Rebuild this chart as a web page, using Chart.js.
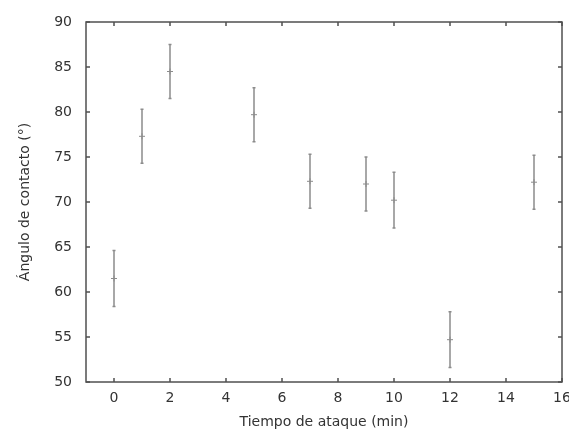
<!DOCTYPE html>
<html>
<head>
<meta charset="utf-8">
<script src="https://cdn.jsdelivr.net/npm/chart.js@4"></script>
<style>
  html, body { margin: 0; padding: 0; background: #fff; }
  #wrap { width: 569px; height: 432px; }
</style>
</head>
<body>
<div id="wrap"><canvas id="grafico"></canvas></div>
<script>
const tiempos = [0, 1, 2, 5, 7, 9, 10, 12, 15];
const angulos = [61.5, 77.3, 84.5, 79.7, 72.3, 72.0, 70.2, 54.7, 72.2];
const errores = [3.1, 3.0, 3.0, 3.0, 3.0, 3.0, 3.1, 3.1, 3.0];
const xTicks = [0, 2, 4, 6, 8, 10, 12, 14, 16];
const yTicks = [50, 55, 60, 65, 70, 75, 80, 85, 90];

const colorBarra = '#8c8c8c';
const colorEje = '#505050';

// barras de error + marco con marcas hacia dentro (estilo gnuplot)
const barrasError = {
  id: 'barrasError',
  beforeDatasetsDraw(chart) {
    const ctx = chart.ctx;
    const x = chart.scales.x, y = chart.scales.y;
    ctx.save();
    ctx.strokeStyle = colorBarra;
    ctx.lineWidth = 1.5;
    tiempos.forEach((t, i) => {
      const px = x.getPixelForValue(t);
      const top = y.getPixelForValue(angulos[i] + errores[i]);
      const bot = y.getPixelForValue(angulos[i] - errores[i]);
      ctx.beginPath();
      ctx.moveTo(px, top); ctx.lineTo(px, bot);
      ctx.moveTo(px - 1.5, top); ctx.lineTo(px + 1.5, top);
      ctx.moveTo(px - 1.5, bot); ctx.lineTo(px + 1.5, bot);
      ctx.stroke();
    });
    ctx.restore();
  },
  afterDraw(chart) {
    const ctx = chart.ctx;
    const a = chart.chartArea;
    const x = chart.scales.x, y = chart.scales.y;
    ctx.save();
    ctx.strokeStyle = colorEje;
    ctx.lineWidth = 1.5;
    ctx.strokeRect(a.left, a.top, a.right - a.left, a.bottom - a.top);
    ctx.beginPath();
    xTicks.forEach(v => {
      const px = x.getPixelForValue(v);
      ctx.moveTo(px, a.bottom); ctx.lineTo(px, a.bottom - 4);
      ctx.moveTo(px, a.top); ctx.lineTo(px, a.top + 4);
    });
    yTicks.forEach(v => {
      const py = y.getPixelForValue(v);
      ctx.moveTo(a.left, py); ctx.lineTo(a.left + 4, py);
      ctx.moveTo(a.right, py); ctx.lineTo(a.right - 4, py);
    });
    ctx.stroke();
    ctx.restore();
  }
};

Chart.defaults.font.family = 'DejaVu Sans';
Chart.defaults.font.size = 14;
Chart.defaults.color = '#333';

new Chart(document.getElementById('grafico'), {
  type: 'scatter',
  data: {
    datasets: [{
      data: tiempos.map((t, i) => ({x: t, y: angulos[i]})),
      pointStyle: 'cross',
      pointRadius: 3,
      borderColor: colorBarra,
      borderWidth: 1,
      backgroundColor: colorBarra
    }]
  },
  options: {
    responsive: true,
    maintainAspectRatio: false,
    animation: false,
    layout: { padding: { top: 22, right: 7, left: 0, bottom: 0 } },
    plugins: { legend: { display: false }, tooltip: { enabled: false } },
    scales: {
      x: {
        type: 'linear',
        min: -1, max: 16,
        afterBuildTicks: s => { s.ticks = xTicks.map(v => ({value: v})); },
        afterFit: s => { s.height = 50; s.paddingLeft = 0; s.paddingRight = 0; },
        grid: { display: false, drawTicks: false },
        border: { display: false },
        ticks: { padding: 8, maxRotation: 0 },
        title: { display: true, text: 'Tiempo de ataque (min)', padding: { top: 0, bottom: 1 } }
      },
      y: {
        type: 'linear',
        min: 50, max: 90,
        afterBuildTicks: s => { s.ticks = yTicks.map(v => ({value: v})); },
        afterFit: s => { s.width = 86; s.paddingTop = 0; s.paddingBottom = 0; },
        grid: { display: false, drawTicks: false },
        border: { display: false },
        ticks: { padding: 14 },
        title: { display: true, text: 'Ángulo de contacto (°)', padding: { top: 17, bottom: 0 } }
      }
    }
  },
  plugins: [barrasError]
});
</script>
</body>
</html>
